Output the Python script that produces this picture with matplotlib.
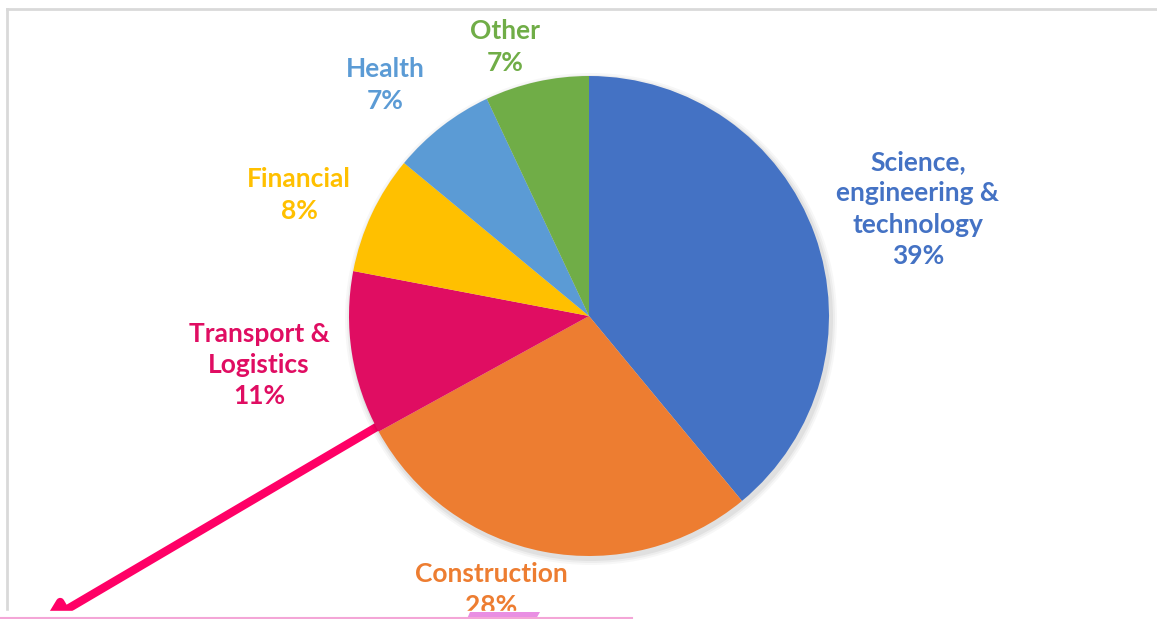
import matplotlib.pyplot as plt
from matplotlib.patches import Rectangle, Polygon

categories = ["Science,\nengineering &\ntechnology", "Construction", "Transport &\nLogistics",
              "Financial", "Health", "Other"]
shares = [39, 28, 11, 8, 7, 7]
colors = ["#4472C4", "#ED7D31", "#E00D62", "#FFC000", "#5B9BD5", "#70AD47"]

W, H = 1157, 619
fig = plt.figure(figsize=(W / 100, H / 100), dpi=100)
ax = fig.add_axes([0, 0, 1, 1])
ax.set_xlim(0, W)
ax.set_ylim(H, 0)
ax.axis("off")

# pie drawn in its own axes so that y goes up
pax = fig.add_axes([0, 0, 1, 1])
cx, cy, r = 589, H - 316, 240
# soft shadow
for i, a in enumerate([0.05, 0.04, 0.03]):
    pax.add_patch(plt.Circle((cx + 2, cy - 3), r + 2 + 2 * i, color="black", alpha=a, lw=0))
wedges, _ = pax.pie(shares, colors=colors, startangle=90, counterclock=False,
                    center=(cx, cy), radius=r, frame=True,
                    wedgeprops=dict(linewidth=0))
pax.set_xlim(0, W)
pax.set_ylim(0, H)
pax.set_aspect("equal")
pax.axis("off")

# label positions (pixel coords, top-left origin)
label_pos = [(918, 209), (491, 590), (259, 365), (299, 195), (385, 85), (505, 47)]
for cat, val, col, (x, y) in zip(categories, shares, colors, label_pos):
    ax.text(x, y, f"{cat}\n{val}%", ha="center", va="center", color=col,
            fontsize=19, fontweight="bold", family=["Lato", "DejaVu Sans"],
            linespacing=1.37, zorder=5)

# frame lines
ax.plot([7, 7], [9, 611], color="#D9D9D9", lw=2, zorder=1)
ax.plot([7, W], [9, 9], color="#D9D9D9", lw=2, zorder=1)

# pink arrow
ax.annotate("", xy=(42, 624), xytext=(380, 425), annotation_clip=False,
            arrowprops=dict(arrowstyle="-|>,head_length=1.3,head_width=0.7",
                            color="#FF0066", lw=6, shrinkA=0, shrinkB=0), zorder=6)

# bottom strip overlay
ax.add_patch(Rectangle((0, 611), W, 10, color="white", zorder=7))
ax.add_patch(Polygon([(470, 612), (540, 612), (536, 619), (467, 619)], closed=True,
                     color="#E98FE3", lw=0, zorder=8))
ax.plot([0, 632], [617.5, 617.5], color="#F4A6D7", lw=1.5, zorder=9)

fig.savefig("out.png", dpi=100)
